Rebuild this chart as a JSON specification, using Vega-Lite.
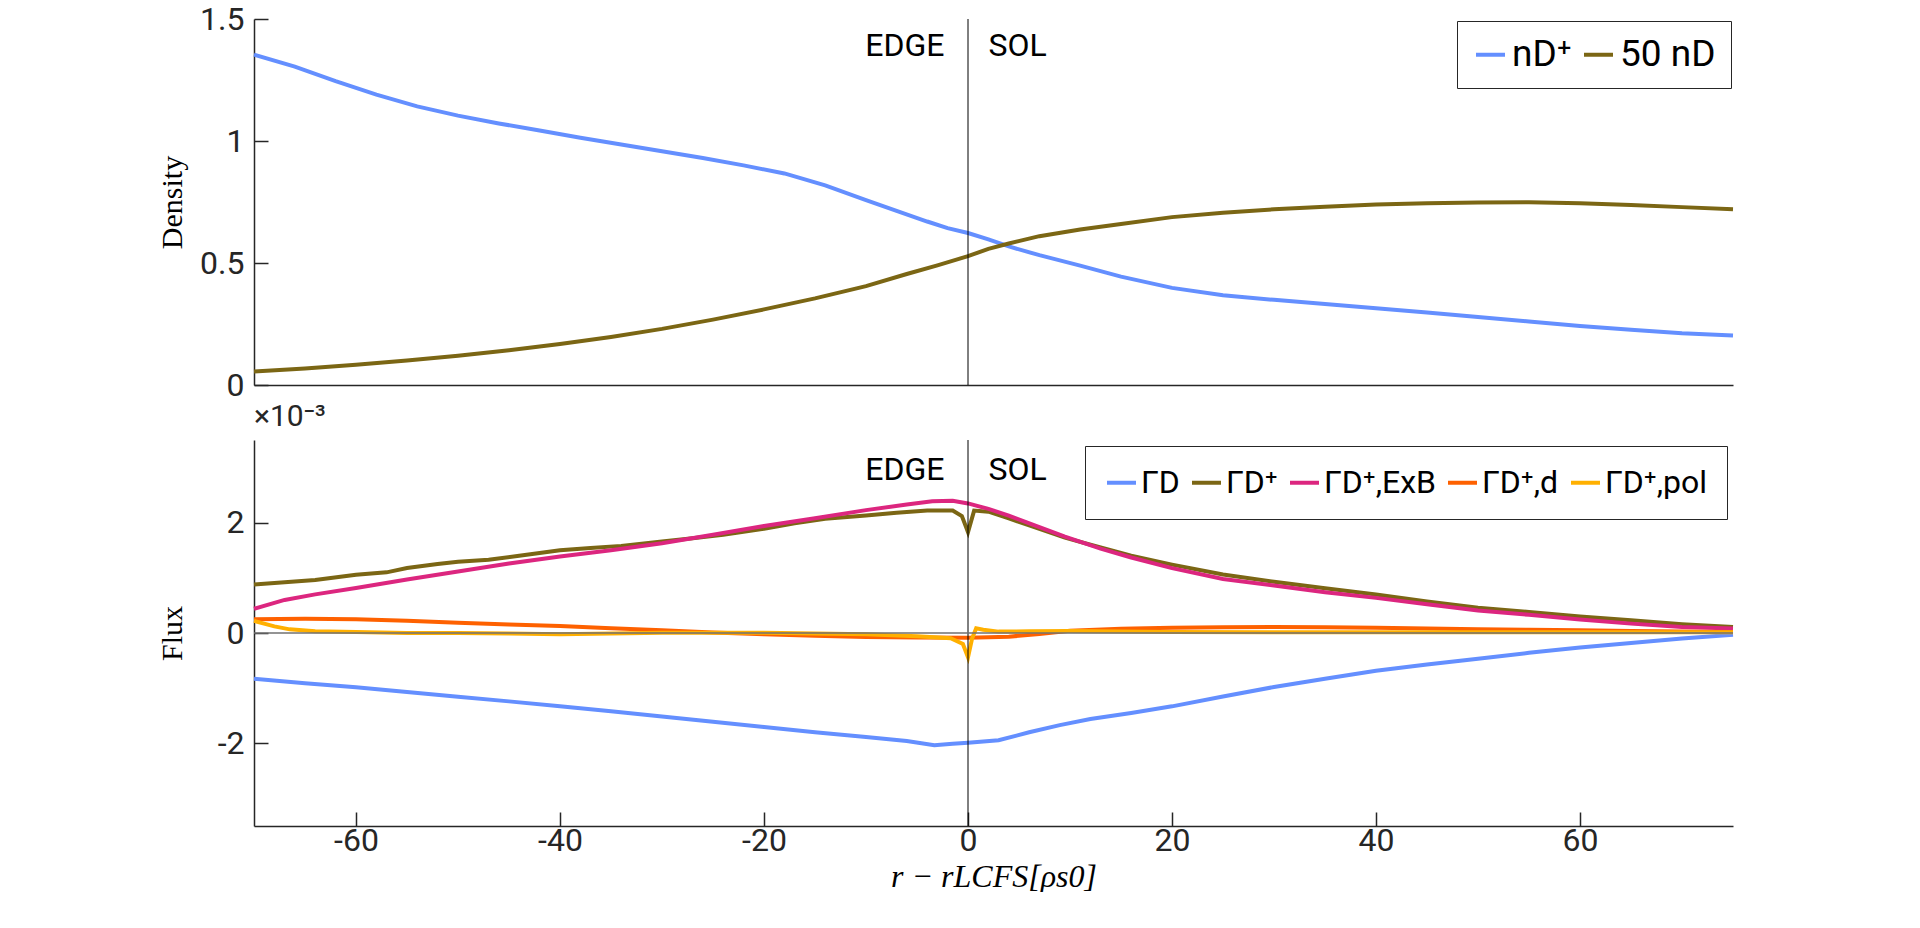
{
  "$schema": "https://vega.github.io/schema/vega-lite/v6.json",
  "background": "white",
  "padding": {"left": 157, "top": 3, "right": 0, "bottom": 0},
  "spacing": 0,
  "config": {
    "view": {"stroke": null},
    "font": "Roboto",
    "axis": {
      "labelFont": "Roboto", "labelFontSize": 32, "labelColor": "#262626",
      "domainColor": "#262626", "domainWidth": 1.5, "tickColor": "#262626", "tickWidth": 1.5,
      "grid": false, "titleFont": "Liberation Serif", "titleFontSize": 30,
      "titleFontWeight": "normal", "titleColor": "#000000"
    },
    "legend": {
      "orient": "top-right", "direction": "horizontal", "title": null,
      "symbolType": "stroke", "symbolStrokeWidth": 4, "symbolSize": 841,
      "labelFont": "Roboto", "labelColor": "#000000",
      "strokeColor": "#262626", "fillColor": "white", "columnPadding": 4, "labelOffset": 3
    }
  },
  "datasets": {
    "density": [
      {"r": -70, "value": 1.354, "series": "nD⁺"}, {"r": -66, "value": 1.305, "series": "nD⁺"},
      {"r": -62, "value": 1.245, "series": "nD⁺"}, {"r": -58, "value": 1.19, "series": "nD⁺"},
      {"r": -54, "value": 1.142, "series": "nD⁺"}, {"r": -50, "value": 1.104, "series": "nD⁺"},
      {"r": -46, "value": 1.072, "series": "nD⁺"}, {"r": -42, "value": 1.043, "series": "nD⁺"},
      {"r": -38, "value": 1.013, "series": "nD⁺"}, {"r": -34, "value": 0.986, "series": "nD⁺"},
      {"r": -30, "value": 0.958, "series": "nD⁺"}, {"r": -26, "value": 0.93, "series": "nD⁺"},
      {"r": -22, "value": 0.9, "series": "nD⁺"}, {"r": -18, "value": 0.867, "series": "nD⁺"},
      {"r": -14, "value": 0.818, "series": "nD⁺"}, {"r": -10, "value": 0.758, "series": "nD⁺"},
      {"r": -7, "value": 0.714, "series": "nD⁺"}, {"r": -4, "value": 0.67, "series": "nD⁺"},
      {"r": -2, "value": 0.643, "series": "nD⁺"}, {"r": 0, "value": 0.623, "series": "nD⁺"},
      {"r": 2, "value": 0.597, "series": "nD⁺"}, {"r": 4, "value": 0.568, "series": "nD⁺"},
      {"r": 7, "value": 0.532, "series": "nD⁺"}, {"r": 11, "value": 0.489, "series": "nD⁺"},
      {"r": 15, "value": 0.444, "series": "nD⁺"}, {"r": 20, "value": 0.398, "series": "nD⁺"},
      {"r": 25, "value": 0.368, "series": "nD⁺"}, {"r": 30, "value": 0.349, "series": "nD⁺"},
      {"r": 35, "value": 0.332, "series": "nD⁺"}, {"r": 40, "value": 0.315, "series": "nD⁺"},
      {"r": 45, "value": 0.297, "series": "nD⁺"}, {"r": 50, "value": 0.279, "series": "nD⁺"},
      {"r": 55, "value": 0.26, "series": "nD⁺"}, {"r": 60, "value": 0.242, "series": "nD⁺"},
      {"r": 65, "value": 0.226, "series": "nD⁺"}, {"r": 70, "value": 0.212, "series": "nD⁺"},
      {"r": 75, "value": 0.203, "series": "nD⁺"},
      {"r": -70, "value": 0.055, "series": "50 nD"}, {"r": -65, "value": 0.068, "series": "50 nD"},
      {"r": -60, "value": 0.083, "series": "50 nD"}, {"r": -55, "value": 0.1, "series": "50 nD"},
      {"r": -50, "value": 0.12, "series": "50 nD"}, {"r": -45, "value": 0.142, "series": "50 nD"},
      {"r": -40, "value": 0.168, "series": "50 nD"}, {"r": -35, "value": 0.197, "series": "50 nD"},
      {"r": -30, "value": 0.23, "series": "50 nD"}, {"r": -25, "value": 0.268, "series": "50 nD"},
      {"r": -20, "value": 0.31, "series": "50 nD"}, {"r": -15, "value": 0.355, "series": "50 nD"},
      {"r": -10, "value": 0.405, "series": "50 nD"}, {"r": -6, "value": 0.455, "series": "50 nD"},
      {"r": -3, "value": 0.49, "series": "50 nD"}, {"r": 0, "value": 0.528, "series": "50 nD"},
      {"r": 2, "value": 0.558, "series": "50 nD"}, {"r": 4, "value": 0.58, "series": "50 nD"},
      {"r": 7, "value": 0.61, "series": "50 nD"}, {"r": 11, "value": 0.637, "series": "50 nD"},
      {"r": 15, "value": 0.66, "series": "50 nD"}, {"r": 20, "value": 0.688, "series": "50 nD"},
      {"r": 25, "value": 0.706, "series": "50 nD"}, {"r": 30, "value": 0.72, "series": "50 nD"},
      {"r": 35, "value": 0.731, "series": "50 nD"}, {"r": 40, "value": 0.74, "series": "50 nD"},
      {"r": 45, "value": 0.745, "series": "50 nD"}, {"r": 50, "value": 0.748, "series": "50 nD"},
      {"r": 55, "value": 0.749, "series": "50 nD"}, {"r": 60, "value": 0.745, "series": "50 nD"},
      {"r": 65, "value": 0.738, "series": "50 nD"}, {"r": 70, "value": 0.729, "series": "50 nD"},
      {"r": 75, "value": 0.72, "series": "50 nD"}
    ],
    "flux": [
      {"r": -70, "flux": -0.83, "series": "ΓD"}, {"r": -65, "flux": -0.91, "series": "ΓD"},
      {"r": -60, "flux": -0.985, "series": "ΓD"}, {"r": -55, "flux": -1.07, "series": "ΓD"},
      {"r": -50, "flux": -1.155, "series": "ΓD"}, {"r": -45, "flux": -1.24, "series": "ΓD"},
      {"r": -40, "flux": -1.327, "series": "ΓD"}, {"r": -35, "flux": -1.42, "series": "ΓD"},
      {"r": -30, "flux": -1.515, "series": "ΓD"}, {"r": -25, "flux": -1.61, "series": "ΓD"},
      {"r": -20, "flux": -1.706, "series": "ΓD"}, {"r": -15, "flux": -1.8, "series": "ΓD"},
      {"r": -10, "flux": -1.886, "series": "ΓD"}, {"r": -6, "flux": -1.96, "series": "ΓD"},
      {"r": -3.3, "flux": -2.036, "series": "ΓD"}, {"r": -1.5, "flux": -2.01, "series": "ΓD"},
      {"r": 0, "flux": -1.99, "series": "ΓD"}, {"r": 3, "flux": -1.946, "series": "ΓD"},
      {"r": 6, "flux": -1.8, "series": "ΓD"}, {"r": 9, "flux": -1.67, "series": "ΓD"},
      {"r": 12, "flux": -1.56, "series": "ΓD"}, {"r": 16, "flux": -1.45, "series": "ΓD"},
      {"r": 20, "flux": -1.33, "series": "ΓD"}, {"r": 25, "flux": -1.15, "series": "ΓD"},
      {"r": 30, "flux": -0.98, "series": "ΓD"}, {"r": 35, "flux": -0.83, "series": "ΓD"},
      {"r": 40, "flux": -0.685, "series": "ΓD"}, {"r": 45, "flux": -0.57, "series": "ΓD"},
      {"r": 50, "flux": -0.465, "series": "ΓD"}, {"r": 55, "flux": -0.36, "series": "ΓD"},
      {"r": 60, "flux": -0.264, "series": "ΓD"}, {"r": 65, "flux": -0.18, "series": "ΓD"},
      {"r": 70, "flux": -0.1, "series": "ΓD"}, {"r": 75, "flux": -0.03, "series": "ΓD"},
      {"r": -70, "flux": 0.88, "series": "ΓD⁺"}, {"r": -67, "flux": 0.92, "series": "ΓD⁺"},
      {"r": -64, "flux": 0.96, "series": "ΓD⁺"}, {"r": -60, "flux": 1.057, "series": "ΓD⁺"},
      {"r": -57, "flux": 1.1, "series": "ΓD⁺"}, {"r": -55, "flux": 1.18, "series": "ΓD⁺"},
      {"r": -52, "flux": 1.25, "series": "ΓD⁺"}, {"r": -50, "flux": 1.29, "series": "ΓD⁺"},
      {"r": -47, "flux": 1.33, "series": "ΓD⁺"}, {"r": -44, "flux": 1.4, "series": "ΓD⁺"},
      {"r": -40, "flux": 1.5, "series": "ΓD⁺"}, {"r": -37, "flux": 1.54, "series": "ΓD⁺"},
      {"r": -34, "flux": 1.58, "series": "ΓD⁺"}, {"r": -30, "flux": 1.66, "series": "ΓD⁺"},
      {"r": -27, "flux": 1.72, "series": "ΓD⁺"}, {"r": -24, "flux": 1.78, "series": "ΓD⁺"},
      {"r": -20, "flux": 1.89, "series": "ΓD⁺"}, {"r": -17, "flux": 1.99, "series": "ΓD⁺"},
      {"r": -14, "flux": 2.07, "series": "ΓD⁺"}, {"r": -10, "flux": 2.13, "series": "ΓD⁺"},
      {"r": -7, "flux": 2.18, "series": "ΓD⁺"}, {"r": -4, "flux": 2.22, "series": "ΓD⁺"},
      {"r": -1.5, "flux": 2.22, "series": "ΓD⁺"}, {"r": -0.6, "flux": 2.12, "series": "ΓD⁺"},
      {"r": 0, "flux": 1.83, "series": "ΓD⁺"}, {"r": 0.6, "flux": 2.22, "series": "ΓD⁺"},
      {"r": 2, "flux": 2.2, "series": "ΓD⁺"}, {"r": 4, "flux": 2.08, "series": "ΓD⁺"},
      {"r": 6, "flux": 1.95, "series": "ΓD⁺"}, {"r": 9.5, "flux": 1.73, "series": "ΓD⁺"},
      {"r": 13, "flux": 1.55, "series": "ΓD⁺"}, {"r": 16, "flux": 1.4, "series": "ΓD⁺"},
      {"r": 20, "flux": 1.24, "series": "ΓD⁺"}, {"r": 25, "flux": 1.06, "series": "ΓD⁺"},
      {"r": 30, "flux": 0.93, "series": "ΓD⁺"}, {"r": 35, "flux": 0.81, "series": "ΓD⁺"},
      {"r": 40, "flux": 0.7, "series": "ΓD⁺"}, {"r": 45, "flux": 0.57, "series": "ΓD⁺"},
      {"r": 50, "flux": 0.46, "series": "ΓD⁺"}, {"r": 55, "flux": 0.38, "series": "ΓD⁺"},
      {"r": 60, "flux": 0.3, "series": "ΓD⁺"}, {"r": 65, "flux": 0.23, "series": "ΓD⁺"},
      {"r": 70, "flux": 0.16, "series": "ΓD⁺"}, {"r": 75, "flux": 0.11, "series": "ΓD⁺"},
      {"r": -70, "flux": 0.44, "series": "ΓD⁺,ExB"}, {"r": -67, "flux": 0.6, "series": "ΓD⁺,ExB"},
      {"r": -64, "flux": 0.7, "series": "ΓD⁺,ExB"}, {"r": -60, "flux": 0.817, "series": "ΓD⁺,ExB"},
      {"r": -55, "flux": 0.97, "series": "ΓD⁺,ExB"}, {"r": -50, "flux": 1.117, "series": "ΓD⁺,ExB"},
      {"r": -45, "flux": 1.26, "series": "ΓD⁺,ExB"}, {"r": -40, "flux": 1.387, "series": "ΓD⁺,ExB"},
      {"r": -35, "flux": 1.5, "series": "ΓD⁺,ExB"}, {"r": -30, "flux": 1.628, "series": "ΓD⁺,ExB"},
      {"r": -25, "flux": 1.78, "series": "ΓD⁺,ExB"}, {"r": -20, "flux": 1.94, "series": "ΓD⁺,ExB"},
      {"r": -15, "flux": 2.08, "series": "ΓD⁺,ExB"}, {"r": -10, "flux": 2.228, "series": "ΓD⁺,ExB"},
      {"r": -6, "flux": 2.33, "series": "ΓD⁺,ExB"}, {"r": -3.5, "flux": 2.39, "series": "ΓD⁺,ExB"},
      {"r": -1.5, "flux": 2.4, "series": "ΓD⁺,ExB"}, {"r": 0, "flux": 2.35, "series": "ΓD⁺,ExB"},
      {"r": 2, "flux": 2.25, "series": "ΓD⁺,ExB"}, {"r": 4, "flux": 2.13, "series": "ΓD⁺,ExB"},
      {"r": 7, "flux": 1.92, "series": "ΓD⁺,ExB"}, {"r": 9.5, "flux": 1.748, "series": "ΓD⁺,ExB"},
      {"r": 13, "flux": 1.53, "series": "ΓD⁺,ExB"}, {"r": 16, "flux": 1.37, "series": "ΓD⁺,ExB"},
      {"r": 20, "flux": 1.177, "series": "ΓD⁺,ExB"}, {"r": 25, "flux": 0.98, "series": "ΓD⁺,ExB"},
      {"r": 30, "flux": 0.86, "series": "ΓD⁺,ExB"}, {"r": 35, "flux": 0.74, "series": "ΓD⁺,ExB"},
      {"r": 40, "flux": 0.637, "series": "ΓD⁺,ExB"}, {"r": 45, "flux": 0.52, "series": "ΓD⁺,ExB"},
      {"r": 50, "flux": 0.41, "series": "ΓD⁺,ExB"}, {"r": 55, "flux": 0.33, "series": "ΓD⁺,ExB"},
      {"r": 60, "flux": 0.246, "series": "ΓD⁺,ExB"}, {"r": 65, "flux": 0.17, "series": "ΓD⁺,ExB"},
      {"r": 70, "flux": 0.11, "series": "ΓD⁺,ExB"}, {"r": 75, "flux": 0.08, "series": "ΓD⁺,ExB"},
      {"r": -70, "flux": 0.25, "series": "ΓD⁺,d"}, {"r": -65, "flux": 0.26, "series": "ΓD⁺,d"},
      {"r": -60, "flux": 0.25, "series": "ΓD⁺,d"}, {"r": -55, "flux": 0.22, "series": "ΓD⁺,d"},
      {"r": -50, "flux": 0.186, "series": "ΓD⁺,d"}, {"r": -45, "flux": 0.155, "series": "ΓD⁺,d"},
      {"r": -40, "flux": 0.126, "series": "ΓD⁺,d"}, {"r": -35, "flux": 0.085, "series": "ΓD⁺,d"},
      {"r": -30, "flux": 0.048, "series": "ΓD⁺,d"}, {"r": -25, "flux": 0.01, "series": "ΓD⁺,d"},
      {"r": -20, "flux": -0.024, "series": "ΓD⁺,d"}, {"r": -15, "flux": -0.05, "series": "ΓD⁺,d"},
      {"r": -10, "flux": -0.072, "series": "ΓD⁺,d"}, {"r": -5, "flux": -0.08, "series": "ΓD⁺,d"},
      {"r": 0, "flux": -0.085, "series": "ΓD⁺,d"}, {"r": 4, "flux": -0.066, "series": "ΓD⁺,d"},
      {"r": 7, "flux": -0.02, "series": "ΓD⁺,d"}, {"r": 10, "flux": 0.04, "series": "ΓD⁺,d"},
      {"r": 15, "flux": 0.075, "series": "ΓD⁺,d"}, {"r": 20, "flux": 0.096, "series": "ΓD⁺,d"},
      {"r": 25, "flux": 0.106, "series": "ΓD⁺,d"}, {"r": 30, "flux": 0.108, "series": "ΓD⁺,d"},
      {"r": 35, "flux": 0.104, "series": "ΓD⁺,d"}, {"r": 40, "flux": 0.096, "series": "ΓD⁺,d"},
      {"r": 45, "flux": 0.08, "series": "ΓD⁺,d"}, {"r": 50, "flux": 0.066, "series": "ΓD⁺,d"},
      {"r": 55, "flux": 0.058, "series": "ΓD⁺,d"}, {"r": 60, "flux": 0.048, "series": "ΓD⁺,d"},
      {"r": 65, "flux": 0.035, "series": "ΓD⁺,d"}, {"r": 70, "flux": 0.025, "series": "ΓD⁺,d"},
      {"r": 75, "flux": 0.018, "series": "ΓD⁺,d"},
      {"r": -70, "flux": 0.22, "series": "ΓD⁺,pol"}, {"r": -68, "flux": 0.12, "series": "ΓD⁺,pol"},
      {"r": -66.5, "flux": 0.066, "series": "ΓD⁺,pol"}, {"r": -64, "flux": 0.03, "series": "ΓD⁺,pol"},
      {"r": -60, "flux": 0.018, "series": "ΓD⁺,pol"}, {"r": -55, "flux": 0.0, "series": "ΓD⁺,pol"},
      {"r": -50, "flux": 0.0, "series": "ΓD⁺,pol"}, {"r": -45, "flux": -0.01, "series": "ΓD⁺,pol"},
      {"r": -40, "flux": -0.024, "series": "ΓD⁺,pol"}, {"r": -35, "flux": -0.01, "series": "ΓD⁺,pol"},
      {"r": -30, "flux": 0.006, "series": "ΓD⁺,pol"}, {"r": -25, "flux": 0.006, "series": "ΓD⁺,pol"},
      {"r": -20, "flux": 0.006, "series": "ΓD⁺,pol"}, {"r": -15, "flux": -0.01, "series": "ΓD⁺,pol"},
      {"r": -10, "flux": -0.024, "series": "ΓD⁺,pol"}, {"r": -5, "flux": -0.06, "series": "ΓD⁺,pol"},
      {"r": -1.7, "flux": -0.096, "series": "ΓD⁺,pol"}, {"r": -0.5, "flux": -0.2, "series": "ΓD⁺,pol"},
      {"r": 0, "flux": -0.44, "series": "ΓD⁺,pol"}, {"r": 0.4, "flux": -0.1, "series": "ΓD⁺,pol"},
      {"r": 0.8, "flux": 0.084, "series": "ΓD⁺,pol"}, {"r": 1.5, "flux": 0.06, "series": "ΓD⁺,pol"},
      {"r": 3, "flux": 0.025, "series": "ΓD⁺,pol"}, {"r": 6, "flux": 0.03, "series": "ΓD⁺,pol"},
      {"r": 10, "flux": 0.036, "series": "ΓD⁺,pol"}, {"r": 20, "flux": 0.018, "series": "ΓD⁺,pol"},
      {"r": 30, "flux": 0.015, "series": "ΓD⁺,pol"}, {"r": 40, "flux": 0.015, "series": "ΓD⁺,pol"},
      {"r": 50, "flux": 0.012, "series": "ΓD⁺,pol"}, {"r": 60, "flux": 0.012, "series": "ΓD⁺,pol"},
      {"r": 75, "flux": 0.012, "series": "ΓD⁺,pol"}
    ]
  },
  "vconcat": [
    {
      "width": 1479,
      "height": 366,
      "layer": [
        {
          "data": {"name": "density"},
          "mark": {"type": "line", "strokeWidth": 4},
          "encoding": {
            "x": {"field": "r", "type": "quantitative",
              "scale": {"domain": [-70, 75], "nice": false, "zero": false},
              "axis": {"labels": false, "ticks": false, "title": null}},
            "y": {"field": "value", "type": "quantitative",
              "scale": {"domain": [0, 1.5], "nice": false},
              "axis": {"values": [0, 0.5, 1, 1.5], "labelExpr": "toString(datum.value)",
                "tickSize": -14, "labelPadding": 24, "title": "Density",
                "minExtent": 50, "maxExtent": 50, "titlePadding": 17}},
            "color": {"field": "series", "type": "nominal",
              "scale": {"domain": ["nD⁺", "50 nD"], "range": ["#648FFF", "#7B6614"]},
              "legend": {"labelFontSize": 37, "padding": 15, "offset": 2}}
          }
        },
        {
          "data": {"values": [{}]},
          "mark": {"type": "rule", "color": "#000000", "strokeWidth": 1},
          "encoding": {"x": {"datum": 0}}
        },
        {
          "data": {"values": [{}]},
          "mark": {"type": "text", "align": "right", "baseline": "middle", "fontSize": 32, "font": "Roboto", "color": "#000000"},
          "encoding": {"x": {"datum": -2.3}, "y": {"datum": 1.39}, "text": {"value": "EDGE"}}
        },
        {
          "data": {"values": [{}]},
          "mark": {"type": "text", "align": "left", "baseline": "middle", "fontSize": 32, "font": "Roboto", "color": "#000000"},
          "encoding": {"x": {"datum": 2.0}, "y": {"datum": 1.39}, "text": {"value": "SOL"}}
        }
      ]
    },
    {
      "width": 1479,
      "height": 386,
      "title": {"text": "×10⁻³", "anchor": "start", "frame": "group", "fontSize": 30, "font": "Roboto", "fontWeight": "normal", "color": "#262626", "offset": 8},
      "layer": [
        {
          "data": {"name": "flux"},
          "mark": {"type": "line", "strokeWidth": 4},
          "encoding": {
            "x": {"field": "r", "type": "quantitative",
              "scale": {"domain": [-70, 75], "nice": false, "zero": false},
              "axis": {"values": [-60, -40, -20, 0, 20, 40, 60], "labelExpr": "toString(datum.value)",
                "tickSize": -14, "labelPadding": 13, "title": "r − rLCFS[ρs0]",
                "titleFontStyle": "italic", "titleFontSize": 32, "titlePadding": 5}},
            "y": {"field": "flux", "type": "quantitative",
              "scale": {"domain": [-3.5, 3.5], "nice": false},
              "axis": {"values": [-2, 0, 2], "labelExpr": "toString(datum.value)",
                "tickSize": -14, "labelPadding": 24, "title": "Flux",
                "minExtent": 50, "maxExtent": 50, "titlePadding": 17}},
            "color": {"field": "series", "type": "nominal",
              "scale": {"domain": ["ΓD", "ΓD⁺", "ΓD⁺,ExB", "ΓD⁺,d", "ΓD⁺,pol"],
                "range": ["#648FFF", "#7B6614", "#DC267F", "#FE6100", "#FFB000"]},
              "legend": {"labelFontSize": 32, "padding": 20, "offset": 6}}
          }
        },
        {
          "data": {"values": [{}]},
          "mark": {"type": "rule", "color": "#000000", "strokeWidth": 1},
          "encoding": {"x": {"datum": 0}}
        },
        {
          "data": {"values": [{}]},
          "mark": {"type": "rule", "color": "#707070", "strokeWidth": 1.5},
          "encoding": {"y": {"datum": 0}}
        },
        {
          "data": {"values": [{}]},
          "mark": {"type": "text", "align": "right", "baseline": "middle", "fontSize": 32, "font": "Roboto", "color": "#000000"},
          "encoding": {"x": {"datum": -2.3}, "y": {"datum": 2.95}, "text": {"value": "EDGE"}}
        },
        {
          "data": {"values": [{}]},
          "mark": {"type": "text", "align": "left", "baseline": "middle", "fontSize": 32, "font": "Roboto", "color": "#000000"},
          "encoding": {"x": {"datum": 2.0}, "y": {"datum": 2.95}, "text": {"value": "SOL"}}
        }
      ]
    }
  ],
  "resolve": {"scale": {"color": "independent"}}
}
